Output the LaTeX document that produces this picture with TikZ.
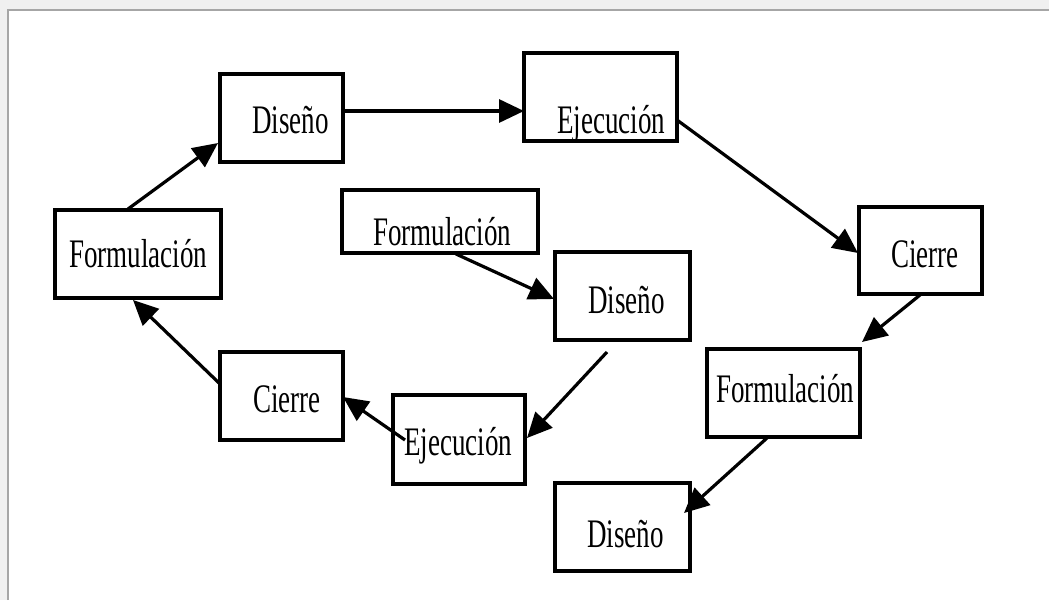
\documentclass[tikz,border=0pt]{standalone}
\usepackage{fontspec}
\setmainfont{Liberation Serif}
\usetikzlibrary{arrows.meta}
\newcommand{\tall}[1]{\scalebox{1}[1.5]{#1}}
\begin{document}
\begin{tikzpicture}[x=1pt,y=-1pt,
  box/.style={draw=black,line width=3.2pt,inner sep=0pt,rectangle},
  lbl/.style={anchor=base west,inner sep=0pt,font=\fontsize{27}{30}\selectfont},
  arr/.style={line width=3.2pt,-{Triangle[length=25pt,width=23pt]}}]
\useasboundingbox (0,0) rectangle (1049,600);
\fill[gray!12] (0,0) rectangle (1049,600);
\fill[white] (9,11) rectangle (1049,600);
\draw[gray!70,line width=2pt] (8,600) -- (8,10) -- (1049,10);
% boxes
\node[box,minimum width=123,minimum height=88] (dT) at (281.5,118) {};
\node[box,minimum width=153,minimum height=88] (eT) at (600.5,97) {};
\node[box,minimum width=166,minimum height=88] (fL) at (138,254) {};
\node[box,minimum width=196,minimum height=63] (fC) at (440,221.5) {};
\node[box,minimum width=135,minimum height=88] (dC) at (622.5,296) {};
\node[box,minimum width=123,minimum height=88] (cL) at (281.5,396) {};
\node[box,minimum width=132,minimum height=89] (eB) at (459,439.5) {};
\node[box,minimum width=123,minimum height=87] (cR) at (920.5,250.5) {};
\node[box,minimum width=153,minimum height=88] (fR) at (783.5,393) {};
\node[box,minimum width=135,minimum height=88] (dB) at (622.5,527) {};
% labels
\node[lbl] (tdT) at (252,133) {\tall{Diseño}};
\node[lbl] (teT) at (557,133) {\tall{Ejecución}};
\node[lbl] (tfL) at (69,267) {\tall{Formulación}};
\node[lbl] (tfC) at (373,245) {\tall{Formulación}};
\node[lbl] (tdC) at (588,313) {\tall{Diseño}};
\node[lbl] (tcL) at (253,412) {\tall{Cierre}};
\node[lbl] (teB) at (404,455) {\tall{Ejecución}};
\node[lbl] (tcR) at (891,267) {\tall{Cierre}};
\node[lbl] (tfR) at (716,402) {\tall{Formulación}};
\node[lbl] (tdB) at (587,547) {\tall{Diseño}};
% connectors
\draw[arr] ([shift={(-10,-45)}]fL.center) -- ([shift={(-63.5,25)}]dT.center);
\draw[arr] ([shift={(61.5,-7)}]dT.center) -- ([shift={(-76.5,14)}]eT.center);
\draw[arr] ([shift={(76.5,23)}]eT.center) -- ([shift={(-62.5,2.5)}]cR.center);
\draw[arr] ([shift={(-0.5,44.5)}]cR.center) -- ([shift={(78.5,-51)}]fR.center);
\draw[arr] ([shift={(-16.5,45)}]fR.center) -- ([shift={(61.5,-14)}]dB.center);
\draw[arr] ([shift={(16,32.5)}]fC.center) -- ([shift={(-68.5,3)}]dC.center);
\draw[arr] ([shift={(-15.5,56)}]dC.center) -- ([shift={(68,-1.5)}]eB.center);
\draw[arr] ([shift={(-54,0.5)}]eB.center) -- ([shift={(61.5,1)}]cL.center);
\draw[arr] ([shift={(-62.5,-13)}]cL.center) -- ([shift={(-5,46)}]fL.center);
\end{tikzpicture}
\end{document}
